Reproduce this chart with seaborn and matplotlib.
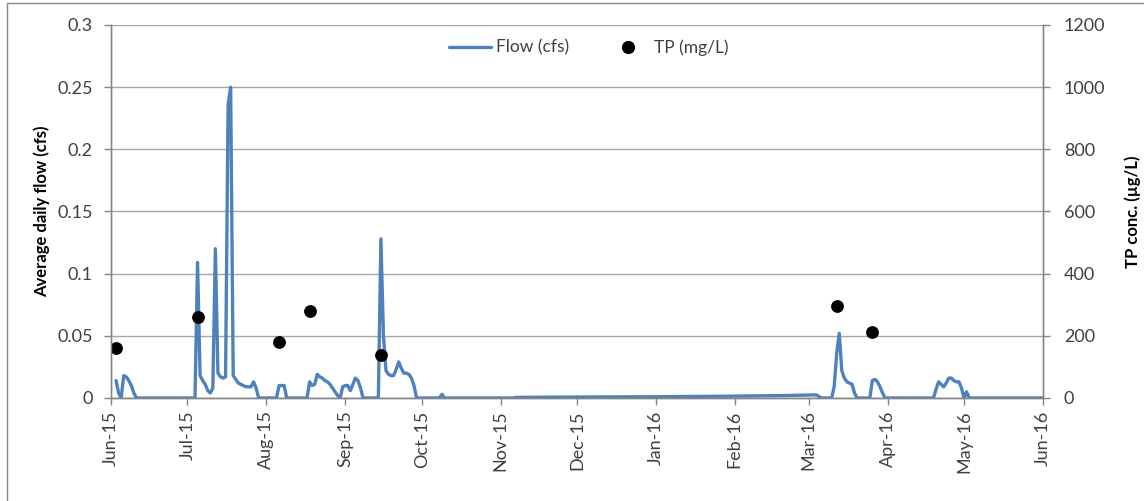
import pandas as pd
import matplotlib
matplotlib.use("Agg")
import matplotlib.pyplot as plt
import matplotlib.dates as mdates
from matplotlib.patches import Rectangle
from matplotlib.lines import Line2D
import seaborn as sns

# flow record (vertices of the daily series, cfs)
flow_dates = [
    "2015-06-03", "2015-06-04", "2015-06-05", "2015-06-06", "2015-06-07", "2015-06-08",
    "2015-06-09", "2015-06-10", "2015-06-11", "2015-07-04", "2015-07-05", "2015-07-06",
    "2015-07-07", "2015-07-08", "2015-07-09", "2015-07-10", "2015-07-11", "2015-07-12",
    "2015-07-13", "2015-07-14", "2015-07-15", "2015-07-16", "2015-07-17", "2015-07-18",
    "2015-07-19", "2015-07-20", "2015-07-21", "2015-07-22", "2015-07-23", "2015-07-24",
    "2015-07-25", "2015-07-26", "2015-07-27", "2015-07-28", "2015-07-29", "2015-08-05",
    "2015-08-06", "2015-08-07", "2015-08-08", "2015-08-09", "2015-08-16", "2015-08-17",
    "2015-08-18", "2015-08-19", "2015-08-20", "2015-08-21", "2015-08-22", "2015-08-23",
    "2015-08-24", "2015-08-25", "2015-08-26", "2015-08-27", "2015-08-28", "2015-08-29",
    "2015-08-30", "2015-08-31", "2015-09-01", "2015-09-02", "2015-09-03", "2015-09-04",
    "2015-09-05", "2015-09-06", "2015-09-07", "2015-09-08", "2015-09-14", "2015-09-15",
    "2015-09-16", "2015-09-17", "2015-09-18", "2015-09-19", "2015-09-20", "2015-09-21",
    "2015-09-22", "2015-09-23", "2015-09-24", "2015-09-25", "2015-09-26", "2015-09-27",
    "2015-09-28", "2015-09-29", "2015-10-08", "2015-10-09", "2015-10-10", "2015-11-06",
    "2015-11-07", "2015-12-03", "2016-01-01", "2016-02-01", "2016-02-21", "2016-03-04",
    "2016-03-06", "2016-03-10", "2016-03-11", "2016-03-12", "2016-03-13", "2016-03-14",
    "2016-03-15", "2016-03-16", "2016-03-17", "2016-03-18", "2016-03-19", "2016-03-20",
    "2016-03-25", "2016-03-26", "2016-03-27", "2016-03-28", "2016-03-29", "2016-03-30",
    "2016-03-31", "2016-04-19", "2016-04-20", "2016-04-21", "2016-04-22", "2016-04-23",
    "2016-04-24", "2016-04-25", "2016-04-26", "2016-04-27", "2016-04-28", "2016-04-29",
    "2016-04-30", "2016-05-01", "2016-05-02", "2016-05-03", "2016-06-01",
]
flow_cfs = [
    0.014, 0.004, 0.0, 0.018, 0.017, 0.014,
    0.010, 0.004, 0.0, 0.0, 0.109, 0.018,
    0.014, 0.011, 0.006, 0.004, 0.008, 0.120,
    0.020, 0.017, 0.016, 0.017, 0.236, 0.250,
    0.018, 0.015, 0.012, 0.011, 0.010, 0.009,
    0.009, 0.009, 0.013, 0.008, 0.0, 0.0,
    0.010, 0.010, 0.010, 0.0, 0.0, 0.0,
    0.013, 0.010, 0.011, 0.019, 0.017, 0.016,
    0.014, 0.013, 0.011, 0.008, 0.005, 0.002,
    0.0, 0.009, 0.010, 0.010, 0.006, 0.011,
    0.016, 0.014, 0.008, 0.0, 0.0, 0.128,
    0.050, 0.022, 0.019, 0.018, 0.018, 0.023,
    0.029, 0.024, 0.020, 0.020, 0.019, 0.016,
    0.010, 0.0, 0.0, 0.003, 0.0, 0.0,
    0.0005, 0.0008, 0.001, 0.0015, 0.002, 0.0025,
    0.0, 0.0, 0.009, 0.036, 0.052, 0.022,
    0.016, 0.013, 0.012, 0.011, 0.004, 0.0,
    0.0, 0.014, 0.015, 0.013, 0.009, 0.004,
    0.0, 0.0, 0.007, 0.013, 0.011, 0.009,
    0.012, 0.016, 0.016, 0.014, 0.013, 0.013,
    0.008, 0.0, 0.005, 0.0, 0.0,
]

# total phosphorus grab samples (ug/L)
tp_dates = ["2015-06-03", "2015-07-05", "2015-08-06", "2015-08-18",
            "2015-09-15", "2016-03-12", "2016-03-26"]
tp_conc = [162, 260, 179, 281, 138, 297, 213]

flow_df = pd.DataFrame({"date": pd.to_datetime(flow_dates), "flow": flow_cfs})
tp_df = pd.DataFrame({"date": pd.to_datetime(tp_dates), "tp": tp_conc})

sns.set_style("white")
plt.rcParams["font.family"] = ["Lato", "DejaVu Sans"]

grey = "#868686"
blue = "#4F81BD"
fig = plt.figure(figsize=(11.44, 5.01), dpi=100)
ax = fig.add_axes([0.0970, 0.2056, 0.8147, 0.7445])
ax2 = ax.twinx()

sns.lineplot(data=flow_df, x="date", y="flow", ax=ax, color=blue,
             linewidth=2.4, legend=False)
sns.scatterplot(data=tp_df, x="date", y="tp", ax=ax2, color="black",
                s=85, edgecolor="black", linewidth=0, legend=False)

ax.set_xlim(pd.Timestamp("2015-06-01"), pd.Timestamp("2016-06-01"))
ax.set_ylim(0, 0.3)
ax2.set_ylim(0, 1200)
ax.set_yticks([0, 0.05, 0.1, 0.15, 0.2, 0.25, 0.3])
ax.set_yticklabels(["0", "0.05", "0.1", "0.15", "0.2", "0.25", "0.3"])
ax2.set_yticks(range(0, 1201, 200))

ax.xaxis.set_major_locator(mdates.MonthLocator())
ax.xaxis.set_major_formatter(mdates.DateFormatter("%b-%y"))
plt.setp(ax.get_xticklabels(), rotation=90)

ax.grid(axis="y", color="#A6A6A6", linewidth=1.0)
ax.set_axisbelow(True)
for a in (ax, ax2):
    a.spines["top"].set_visible(False)
    for s in ("left", "right", "bottom"):
        a.spines[s].set_color(grey)
        a.spines[s].set_linewidth(1.0)
    a.tick_params(colors=grey, labelcolor="#404040", labelsize=13,
                  length=5, width=1.0, direction="out")
ax.tick_params(axis="y", left=True, pad=8)
ax.tick_params(axis="x", bottom=True, pad=4)
ax2.tick_params(axis="y", right=True, pad=10)

ax.set_xlabel("")
ax.set_ylabel("Average daily flow (cfs)", fontsize=12, fontweight="bold",
              color="black", labelpad=5)
ax2.set_ylabel("TP conc. (\u00b5g/L)", fontsize=12, fontweight="bold",
               color="black", labelpad=14)

handles = [
    Line2D([], [], color=blue, linewidth=2.4),
    Line2D([], [], color="black", marker="o", linestyle="none", markersize=8.5),
]
ax2.legend(handles, ["Flow (cfs)", "TP (mg/L)"], loc="center",
           bbox_to_anchor=(0.513, 0.94), ncol=2, frameon=False,
           fontsize=12.5, columnspacing=2.2, handlelength=2.4,
           handletextpad=0.3, labelcolor="#404040")

fig.patches.append(Rectangle((7 / 1144, -0.02), 1 - 7 / 1144 + 0.01, 1.0 - 2.5 / 501 + 0.02,
                             transform=fig.transFigure, fill=False,
                             edgecolor=grey, linewidth=1.0))

fig.savefig("out.png", dpi=100)
